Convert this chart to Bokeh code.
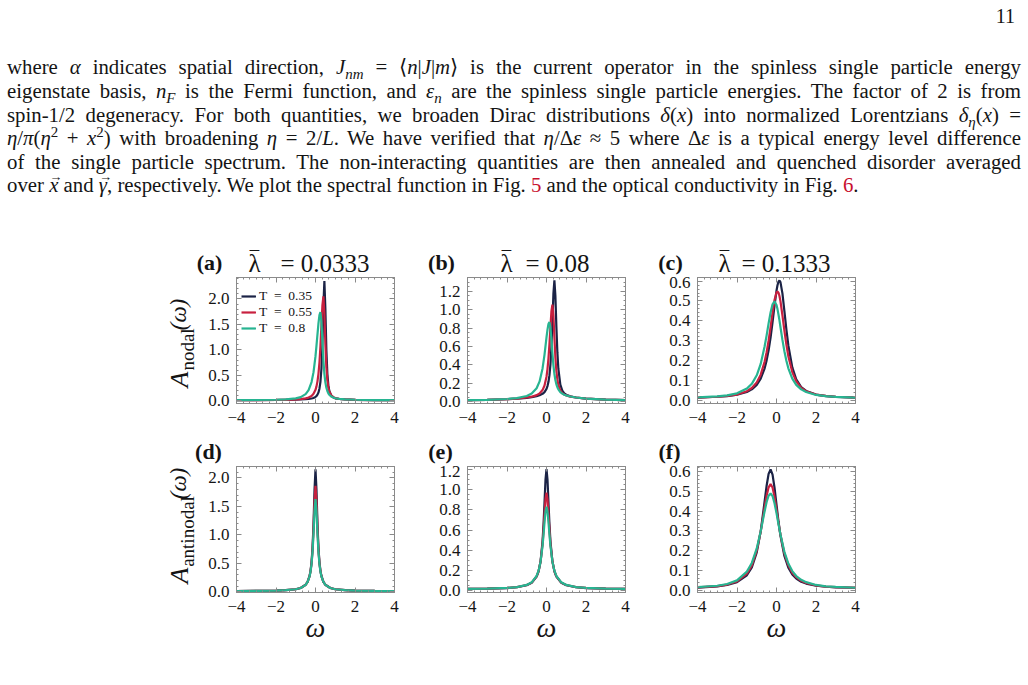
import math

from bokeh.embed import file_html
from bokeh.layouts import column, row
from bokeh.models import (Div, FixedTicker, Label, Legend, LegendItem, LinearAxis,
                          PrintfTickFormatter, Range1d)
from bokeh.plotting import figure
from bokeh.resources import INLINE

# ---------------------------------------------------------------- data
TEMPERATURES = ["0.35", "0.55", "0.8"]
LINE_COLORS = ["#1b2346", "#c8203f", "#27b491"]

COUPLINGS = ["0.0333", "0.08", "0.1333"]
PANEL_TAGS = ["(a)", "(b)", "(c)", "(d)", "(e)", "(f)"]

X_TICKS = [-4, -2, 0, 2, 4]
X_TICK_LABELS = {-4: "\u22124", -2: "\u22122", 0: "0", 2: "2", 4: "4"}
Y_TICKS_LARGE = [0.0, 0.5, 1.0, 1.5, 2.0]
Y_TICKS_MEDIUM = [0.0, 0.2, 0.4, 0.6, 0.8, 1.0, 1.2]
Y_TICKS_SMALL = [0.0, 0.1, 0.2, 0.3, 0.4, 0.5, 0.6]

# nodal spectral function, lambda = 0.0333
omega_a = [-4, -3, -2, -1.5, -1, -0.75, -0.5, -0.35, -0.2, -0.1, 0, 0.05, 0.1, 0.15, 0.2, 0.25,
           0.3, 0.35, 0.4, 0.45, 0.5, 0.55, 0.6, 0.65, 0.7, 0.8, 0.9, 1.0, 1.2, 1.5, 2, 3, 4]
nodal_a_t035 = [0.016, 0.017, 0.019, 0.022, 0.024, 0.028, 0.034, 0.039, 0.048, 0.059, 0.080,
                0.097, 0.124, 0.166, 0.240, 0.374, 0.631, 1.122, 1.878, 2.350, 1.800, 1.002,
                0.537, 0.310, 0.198, 0.104, 0.070, 0.051, 0.038, 0.029, 0.023, 0.018, 0.016]
nodal_a_t055 = [0.016, 0.017, 0.020, 0.023, 0.029, 0.036, 0.050, 0.066, 0.097, 0.139, 0.218,
                0.285, 0.384, 0.532, 0.754, 1.073, 1.481, 1.876, 2.050, 1.710, 1.106, 0.663,
                0.408, 0.265, 0.185, 0.108, 0.075, 0.056, 0.040, 0.030, 0.023, 0.018, 0.016]
nodal_a_t080 = [0.017, 0.019, 0.024, 0.031, 0.050, 0.075, 0.134, 0.212, 0.370, 0.565, 0.878,
                1.083, 1.307, 1.522, 1.681, 1.740, 1.554, 1.158, 0.790, 0.531, 0.365, 0.260,
                0.194, 0.150, 0.121, 0.086, 0.067, 0.053, 0.040, 0.031, 0.024, 0.018, 0.016]

# nodal spectral function, lambda = 0.08
omega_b = [-4, -3, -2, -1.5, -1, -0.75, -0.5, -0.35, -0.2, -0.1, 0, 0.05, 0.1, 0.15, 0.2, 0.25,
           0.3, 0.35, 0.4, 0.45, 0.5, 0.55, 0.6, 0.7, 0.8, 0.9, 1.0, 1.2, 1.5, 2, 3, 4]
nodal_b_t035 = [0.017, 0.019, 0.026, 0.032, 0.042, 0.049, 0.060, 0.070, 0.085, 0.104, 0.139,
                0.169, 0.216, 0.288, 0.406, 0.594, 0.867, 1.173, 1.320, 1.150, 0.816, 0.538,
                0.358, 0.186, 0.121, 0.090, 0.075, 0.058, 0.045, 0.033, 0.022, 0.017]
nodal_b_t055 = [0.017, 0.019, 0.026, 0.033, 0.045, 0.054, 0.071, 0.089, 0.126, 0.175, 0.272,
                0.354, 0.471, 0.628, 0.816, 0.984, 1.055, 0.939, 0.699, 0.482, 0.334, 0.241,
                0.183, 0.121, 0.093, 0.077, 0.068, 0.055, 0.045, 0.033, 0.022, 0.017]
nodal_b_t080 = [0.017, 0.020, 0.029, 0.039, 0.062, 0.088, 0.146, 0.220, 0.361, 0.512, 0.698,
                0.783, 0.844, 0.865, 0.808, 0.673, 0.522, 0.395, 0.301, 0.235, 0.188, 0.157,
                0.134, 0.104, 0.087, 0.075, 0.068, 0.056, 0.045, 0.033, 0.022, 0.017]

# nodal spectral function, lambda = 0.1333
omega_c = [-4, -3, -2.5, -2, -1.5, -1.25, -1, -0.8, -0.6, -0.5, -0.4, -0.3, -0.2, -0.1, 0, 0.05,
           0.1, 0.15, 0.2, 0.3, 0.4, 0.5, 0.6, 0.8, 1.0, 1.25, 1.5, 2, 2.5, 3, 4]
nodal_c_t035 = [0.014, 0.018, 0.021, 0.028, 0.042, 0.055, 0.078, 0.109, 0.161, 0.201, 0.252,
                0.316, 0.393, 0.476, 0.551, 0.579, 0.597, 0.603, 0.595, 0.538, 0.449, 0.357,
                0.276, 0.166, 0.106, 0.067, 0.047, 0.029, 0.021, 0.017, 0.014]
nodal_c_t055 = [0.014, 0.018, 0.022, 0.029, 0.046, 0.062, 0.090, 0.129, 0.195, 0.242, 0.300,
                0.368, 0.441, 0.505, 0.543, 0.548, 0.542, 0.525, 0.499, 0.428, 0.351, 0.281,
                0.222, 0.142, 0.096, 0.063, 0.046, 0.029, 0.022, 0.018, 0.014]
nodal_c_t080 = [0.015, 0.020, 0.025, 0.035, 0.059, 0.083, 0.126, 0.183, 0.272, 0.327, 0.387,
                0.442, 0.483, 0.498, 0.480, 0.459, 0.432, 0.402, 0.369, 0.304, 0.247, 0.199,
                0.161, 0.109, 0.078, 0.055, 0.042, 0.027, 0.021, 0.017, 0.014]

# antinodal spectral function, lambda = 0.0333
omega_d = [-4, -3, -2, -1.5, -1, -0.75, -0.5, -0.4, -0.3, -0.25, -0.2, -0.15, -0.1, -0.05, 0,
           0.05, 0.1, 0.15, 0.2, 0.25, 0.3, 0.4, 0.5, 0.75, 1, 1.5, 2, 3, 4]
antinodal_d_t035 = [0.015, 0.017, 0.022, 0.030, 0.047, 0.069, 0.126, 0.178, 0.281, 0.374, 0.523,
                    0.772, 1.190, 1.787, 2.150, 1.787, 1.190, 0.772, 0.523, 0.374, 0.281, 0.178,
                    0.126, 0.069, 0.047, 0.030, 0.022, 0.017, 0.015]
antinodal_d_t055 = [0.015, 0.017, 0.022, 0.030, 0.047, 0.069, 0.125, 0.177, 0.277, 0.366, 0.506,
                    0.733, 1.099, 1.583, 1.860, 1.583, 1.099, 0.733, 0.506, 0.366, 0.277, 0.177,
                    0.125, 0.069, 0.047, 0.030, 0.022, 0.017, 0.015]
antinodal_d_t080 = [0.015, 0.017, 0.022, 0.030, 0.047, 0.069, 0.124, 0.175, 0.272, 0.357, 0.489,
                    0.697, 1.016, 1.414, 1.630, 1.414, 1.016, 0.697, 0.489, 0.357, 0.272, 0.175,
                    0.124, 0.069, 0.047, 0.030, 0.022, 0.017, 0.015]

# antinodal spectral function, lambda = 0.08
omega_e = [-4, -3, -2, -1.5, -1, -0.75, -0.5, -0.4, -0.3, -0.2, -0.15, -0.1, -0.05, 0, 0.05,
           0.1, 0.15, 0.2, 0.3, 0.4, 0.5, 0.75, 1, 1.5, 2, 3, 4]
antinodal_e_t035 = [0.015, 0.018, 0.024, 0.032, 0.052, 0.076, 0.137, 0.190, 0.289, 0.488, 0.656,
                    0.875, 1.101, 1.205, 1.101, 0.875, 0.656, 0.488, 0.289, 0.190, 0.137, 0.076,
                    0.052, 0.032, 0.024, 0.018, 0.015]
antinodal_e_t055 = [0.016, 0.018, 0.025, 0.033, 0.054, 0.078, 0.140, 0.193, 0.287, 0.462, 0.596,
                    0.757, 0.907, 0.970, 0.907, 0.757, 0.596, 0.462, 0.287, 0.193, 0.140, 0.078,
                    0.054, 0.033, 0.025, 0.018, 0.016]
antinodal_e_t080 = [0.016, 0.018, 0.025, 0.034, 0.055, 0.081, 0.144, 0.196, 0.286, 0.442, 0.553,
                    0.677, 0.786, 0.830, 0.786, 0.677, 0.553, 0.442, 0.286, 0.196, 0.144, 0.081,
                    0.055, 0.034, 0.025, 0.018, 0.016]

# antinodal spectral function, lambda = 0.1333
omega_f = [-4, -3, -2.5, -2, -1.5, -1.25, -1, -0.8, -0.6, -0.5, -0.4, -0.3, -0.2, -0.1, 0, 0.1,
           0.2, 0.4, 0.6, 0.8, 1.0, 1.25, 1.5, 2, 2.5, 3, 4]
antinodal_f_t035 = [0.015, 0.021, 0.028, 0.042, 0.077, 0.117, 0.192, 0.298, 0.450, 0.528, 0.588,
                    0.610, 0.584, 0.518, 0.433, 0.349, 0.277, 0.174, 0.115, 0.081, 0.060, 0.044,
                    0.035, 0.024, 0.019, 0.016, 0.014]
antinodal_f_t055 = [0.016, 0.022, 0.030, 0.046, 0.085, 0.127, 0.202, 0.297, 0.420, 0.478, 0.520,
                    0.536, 0.519, 0.472, 0.409, 0.342, 0.281, 0.187, 0.127, 0.090, 0.067, 0.049,
                    0.038, 0.026, 0.020, 0.017, 0.014]
antinodal_f_t080 = [0.017, 0.024, 0.033, 0.051, 0.095, 0.139, 0.212, 0.299, 0.400, 0.446, 0.478,
                    0.489, 0.476, 0.440, 0.390, 0.335, 0.282, 0.195, 0.136, 0.098, 0.073, 0.054,
                    0.042, 0.028, 0.021, 0.018, 0.014]

# ---------------------------------------------------------------- style
SERIF = "Liberation Serif"
FRAME_COLOR = "#8a8a8a"
TEXT_COLOR = "#141414"
FRAME_H = 126

X_MINOR = [-4 + k / 3 for k in range(25)]


def minor_steps(step, top):
    n = int(round(top / step))
    return [round(k * step, 4) for k in range(n + 1)]


def style_axis(axis, with_labels, standoff=7):
    axis.axis_line_color = FRAME_COLOR
    axis.major_tick_line_color = FRAME_COLOR
    axis.minor_tick_line_color = FRAME_COLOR
    axis.major_tick_in = 5
    axis.major_tick_out = 0
    axis.minor_tick_in = 2
    axis.minor_tick_out = 0
    axis.major_label_text_font = SERIF
    if with_labels:
        axis.major_label_text_color = TEXT_COLOR
        axis.major_label_text_font_size = "17px"
        axis.major_label_standoff = standoff
    else:
        axis.major_label_text_color = None
        axis.major_label_text_font_size = "0px"
        axis.major_label_standoff = 0


def make_panel(omega, curves, y_lo, y_hi, y_ticks, y_minor, width, height, borders,
               x_title=None):
    left, right, top, bottom = borders
    p = figure(width=width, height=height, x_range=Range1d(-4, 4),
               y_range=Range1d(y_lo, y_hi), output_backend="svg",
               toolbar_location=None, min_border_left=left, min_border_right=right,
               min_border_top=top, min_border_bottom=bottom)
    p.grid.visible = False
    p.outline_line_color = FRAME_COLOR
    p.background_fill_color = "white"
    p.border_fill_color = "white"

    renderers = [p.line(omega, vals, line_color=color, line_width=2.2)
                 for vals, color in zip(curves, LINE_COLORS)]

    x_ticker = FixedTicker(ticks=X_TICKS, minor_ticks=X_MINOR)
    y_ticker = FixedTicker(ticks=y_ticks, minor_ticks=y_minor)
    p.xaxis.ticker = x_ticker
    p.yaxis.ticker = y_ticker
    p.xaxis.major_label_overrides = X_TICK_LABELS
    p.yaxis.formatter = PrintfTickFormatter(format="%.1f")
    for axis in p.xaxis:
        style_axis(axis, True, 8)
        if x_title:
            axis.axis_label = x_title
            axis.axis_label_text_font = SERIF
            axis.axis_label_text_font_style = "italic"
            axis.axis_label_text_font_size = "28px"
            axis.axis_label_text_color = TEXT_COLOR
            axis.axis_label_standoff = -3
    for axis in p.yaxis:
        style_axis(axis, True, 7)

    top_axis = LinearAxis(ticker=x_ticker)
    style_axis(top_axis, False)
    p.add_layout(top_axis, "above")
    right_axis = LinearAxis(ticker=y_ticker)
    style_axis(right_axis, False)
    p.add_layout(right_axis, "right")
    return p, renderers


def text_strip(x0, x1, y0, y1, height=None):
    """An axis-less drawing area whose coordinates are page pixels (y grows downward).

    (y0, y1) is the span covered by the drawing frame; `height` is the canvas height
    when the frame is lined up with the panels of the same row.
    """
    p = figure(width=x1 - x0, height=height or (y1 - y0), x_range=Range1d(x0, x1),
               y_range=Range1d(y1, y0), output_backend="svg", toolbar_location=None,
               x_axis_location=None, y_axis_location=None, min_border=0)
    p.title.visible = False
    p.grid.visible = False
    p.outline_line_color = None
    p.background_fill_color = "white"
    p.border_fill_color = "white"
    return p


def note(p, x, y, text, size, style="normal", angle=0.0, align="center"):
    """Text anchored at (x, y), vertically centred."""
    p.add_layout(Label(x=x, y=y, text=text, text_font=SERIF, text_font_size=size,
                       text_font_style=style, text_color=TEXT_COLOR, text_align=align,
                       text_baseline="middle", angle=angle, angle_units="rad"))


def y_label(p, sub, centers):
    # A_sub(omega), reading bottom to top
    up = math.pi / 2
    (ax, ay), (sx, sy), (wx, wy) = centers
    note(p, ax, ay, "A", "26px", "italic", angle=up)
    note(p, sx, sy, sub, "19px", angle=up)
    note(p, wx, wy, "(\u03c9)", "23px", "italic", angle=up)


# ---------------------------------------------------------------- layout geometry
PAGE_W = 1028
TEXT_H = 240
HEAD1 = (240, 276)
ROW1 = (276, 440)
HEAD2 = (440, 465)
ROW2 = (465, 685)
GUTTER_W = 198
COL_W = [222, 230, 378]
COL_SIDES = [(38, 26), (47, 25), (47, 173)]

nodal_sets = [
    (omega_a, [nodal_a_t035, nodal_a_t055, nodal_a_t080], -0.05, 2.42, Y_TICKS_LARGE, minor_steps(0.1, 2.4)),
    (omega_b, [nodal_b_t035, nodal_b_t055, nodal_b_t080], -0.02, 1.35, Y_TICKS_MEDIUM, minor_steps(0.05, 1.35)),
    (omega_c, [nodal_c_t035, nodal_c_t055, nodal_c_t080], -0.016, 0.618, Y_TICKS_SMALL, minor_steps(0.02, 0.62)),
]
antinodal_sets = [
    (omega_d, [antinodal_d_t035, antinodal_d_t055, antinodal_d_t080], -0.01, 2.2, Y_TICKS_LARGE, minor_steps(0.1, 2.2)),
    (omega_e, [antinodal_e_t035, antinodal_e_t055, antinodal_e_t080], -0.02, 1.23, Y_TICKS_MEDIUM, minor_steps(0.05, 1.25)),
    (omega_f, [antinodal_f_t035, antinodal_f_t055, antinodal_f_t080], -0.01, 0.625, Y_TICKS_SMALL, minor_steps(0.02, 0.62)),
]

top_panels, bottom_panels = [], []
legend_renderers = None
for i, (om, curves, lo, hi, yt, ym) in enumerate(nodal_sets):
    left, right = COL_SIDES[i]
    p, rs = make_panel(om, curves, lo, hi, yt, ym, COL_W[i], ROW1[1] - ROW1[0],
                       (left, right, 1, 37))
    if i == 0:
        legend_renderers = rs
    top_panels.append(p)

for i, (om, curves, lo, hi, yt, ym) in enumerate(antinodal_sets):
    left, right = COL_SIDES[i]
    p, rs = make_panel(om, curves, lo, hi, yt, ym, COL_W[i], ROW2[1] - ROW2[0],
                       (left, right, 1, 93), x_title="\u03c9")
    bottom_panels.append(p)

legend = Legend(
    items=[LegendItem(label="T\u2002=\u2002" + t, renderers=[r])
           for t, r in zip(TEMPERATURES, legend_renderers)],
    location=(5, 67), orientation="vertical", padding=0, margin=0, spacing=-2,
    glyph_width=15, glyph_height=14, label_height=14, label_standoff=3,
    label_text_font=SERIF, label_text_font_size="13.5px", label_text_color=TEXT_COLOR,
    background_fill_alpha=0, border_line_alpha=0)
top_panels[0].add_layout(legend, "center")

# panel captions above the top row: tag, barred lambda, value
head1 = text_strip(0, PAGE_W, *HEAD1)
tag_mid = [209, 441, 670]
lambda_mid = [254, 506, 724]
value_end = [369, 589, 830]
for i in range(3):
    note(head1, tag_mid[i], 262, PANEL_TAGS[i], "22px", "bold")
    note(head1, lambda_mid[i], 263, "\u03bb", "25px")
    note(head1, lambda_mid[i], 261, "\u203e", "25px")
    note(head1, value_end[i], 263, "=\u2005" + COUPLINGS[i], "25px", align="right")

# panel captions above the bottom row
head2 = text_strip(0, PAGE_W, *HEAD2)
for i in range(3):
    note(head2, tag_mid[i] - 1, 451, PANEL_TAGS[i + 3], "22px", "bold")

# y-axis titles left of each row; their frames line up with the panel frames
row1_frame = (ROW1[0] + 1, ROW1[0] + 1 + FRAME_H)
row2_frame = (ROW2[0] + 1, ROW2[0] + 1 + FRAME_H)
gutter1 = text_strip(0, GUTTER_W, *row1_frame, height=ROW1[1] - ROW1[0])
y_label(gutter1, "nodal", [(179, 379), (187, 349), (178, 314)])
gutter2 = text_strip(0, GUTTER_W, *row2_frame, height=ROW2[1] - ROW2[0])
y_label(gutter2, "antinodal", [(179, 575), (187, 531), (178, 483)])

# ---------------------------------------------------------------- text block
RED = "#c8102e"


def vec(sym):
    return ("<span style='position:relative;display:inline-block'><i>" + sym + "</i>"
            "<span style='position:absolute;left:0.05em;top:-0.62em;font-size:0.62em'>"
            "\u2192</span></span>")


PARAGRAPH_LINES = [
    "where <i>\u03b1</i> indicates spatial direction, <i>J</i><sub><i>nm</i></sub> = "
    "\u27e8<i>n</i>|<i>J</i>|<i>m</i>\u27e9 is the current operator in the spinless single "
    "particle energy",
    "eigenstate basis, <i>n</i><sub><i>F</i></sub> is the Fermi function, and "
    "<i>\u03b5</i><sub><i>n</i></sub> are the spinless single particle energies. "
    "The factor of 2 is from",
    "spin-1/2 degeneracy. For both quantities, we broaden Dirac distributions "
    "<i>\u03b4</i>(<i>x</i>) into normalized Lorentzians <i>\u03b4</i><sub><i>\u03b7</i></sub>"
    "(<i>x</i>) =",
    "<i>\u03b7</i>/<i>\u03c0</i>(<i>\u03b7</i><sup>2</sup> + <i>x</i><sup>2</sup>) with "
    "broadening <i>\u03b7</i> = 2/<i>L</i>. We have verified that <i>\u03b7</i>/\u0394<i>\u03b5</i> "
    "\u2248 5 where \u0394<i>\u03b5</i> is a typical energy level difference",
    "of the single particle spectrum. The non-interacting quantities are then annealed "
    "and quenched disorder averaged",
    "over " + vec("x") + " and " + vec("\u03b3") + ", respectively. We plot the spectral "
    f"function in Fig. <span style='color:{RED}'>5</span> and the optical conductivity in "
    f"Fig. <span style='color:{RED}'>6</span>.",
]
LINE_TOPS = [55, 79, 103, 126, 150, 173]

parts = [
    "<div style=\"position:relative;width:1028px;height:240px;"
    f"font-family:'{SERIF}',serif;color:{TEXT_COLOR};\">",
    "<div style=\"position:absolute;top:2px;right:13px;font-size:20px;\">11</div>",
]
for k, (line, top) in enumerate(zip(PARAGRAPH_LINES, LINE_TOPS)):
    last = k == len(PARAGRAPH_LINES) - 1
    align = "text-align:left;" if last else "text-align:justify;text-align-last:justify;"
    parts.append(
        f"<div style=\"position:absolute;left:7px;width:1014px;top:{top}px;"
        f"font-size:20.8px;line-height:24px;{align}\">{line}</div>")
parts.append("</div>")
html = "".join(parts).replace("<sub>", "<sub style='font-size:0.72em;line-height:0'>") \
                     .replace("<sup>", "<sup style='font-size:0.72em;line-height:0'>")

text_block = Div(text=html, width=PAGE_W, height=TEXT_H, margin=0)

page = column(
    text_block,
    head1,
    row(gutter1, *top_panels, spacing=0),
    head2,
    row(gutter2, *bottom_panels, spacing=0),
    spacing=0,
)

open("out.html", "w").write(file_html(page, INLINE))
